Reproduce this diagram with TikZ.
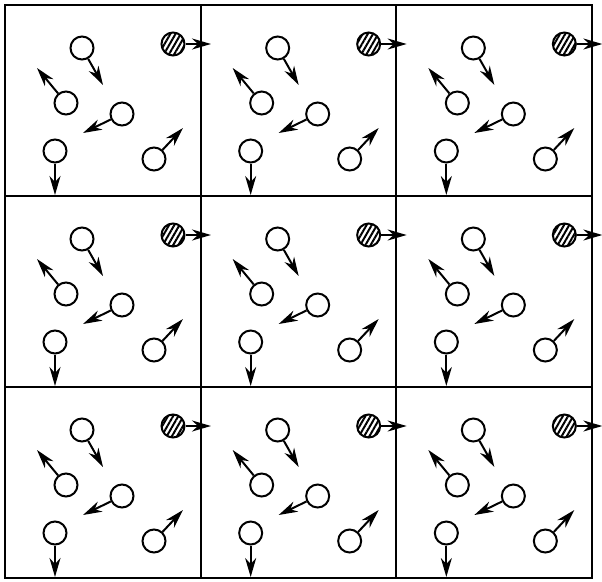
\documentclass[tikz,border=0pt]{standalone}
\usetikzlibrary{arrows.meta,patterns.meta}
\tikzset{
  particle/.style={circle, draw, line width=2pt, inner sep=0pt, minimum size=23pt},
  tagged/.style={particle, pattern={Lines[angle=60,distance=4.5pt,line width=2pt]}},
  velocity/.style={line width=2pt, -{Stealth[length=19pt,width=11pt,inset=6pt]}},
  wall/.style={line width=2pt},
}
\begin{document}
\begin{tikzpicture}[x=1pt, y=-1pt]
  \useasboundingbox (0,0) rectangle (602,581);
  % Periodic cells
  \draw[wall] (5,5) rectangle (592,578);
  \foreach \k in {1,2} {
    \draw[wall] ({5+195.67*\k},5) -- ({5+195.67*\k},578);
    \draw[wall] (5,{5+191*\k}) -- (592,{5+191*\k});
  }
  % Particles (same in every cell)
  \foreach \i in {0,1,2} {
    \foreach \j in {0,1,2} {
      \begin{scope}[shift={({5+195.67*\i},{5+191*\j})}]
        \node (a\i\j) at (77,43) [particle] {};
        \node (h\i\j) at (168,39) [tagged] {};
        \node (b\i\j) at (61,98) [particle] {};
        \node (c\i\j) at (117,109) [particle] {};
        \node (d\i\j) at (50,146) [particle] {};
        \node (e\i\j) at (149,154) [particle] {};
        \coordinate (a\i\j-v) at (98,80);
        \coordinate (h\i\j-v) at (206,39);
        \coordinate (b\i\j-v) at (32,63);
        \coordinate (c\i\j-v) at (78,128);
        \coordinate (d\i\j-v) at (50,190);
        \coordinate (e\i\j-v) at (178,123);
        \foreach \p in {a,h,b,c,d,e}
          \draw[velocity] (\p\i\j) -- (\p\i\j-v);
      \end{scope}
    }
  }
\end{tikzpicture}
\end{document}
